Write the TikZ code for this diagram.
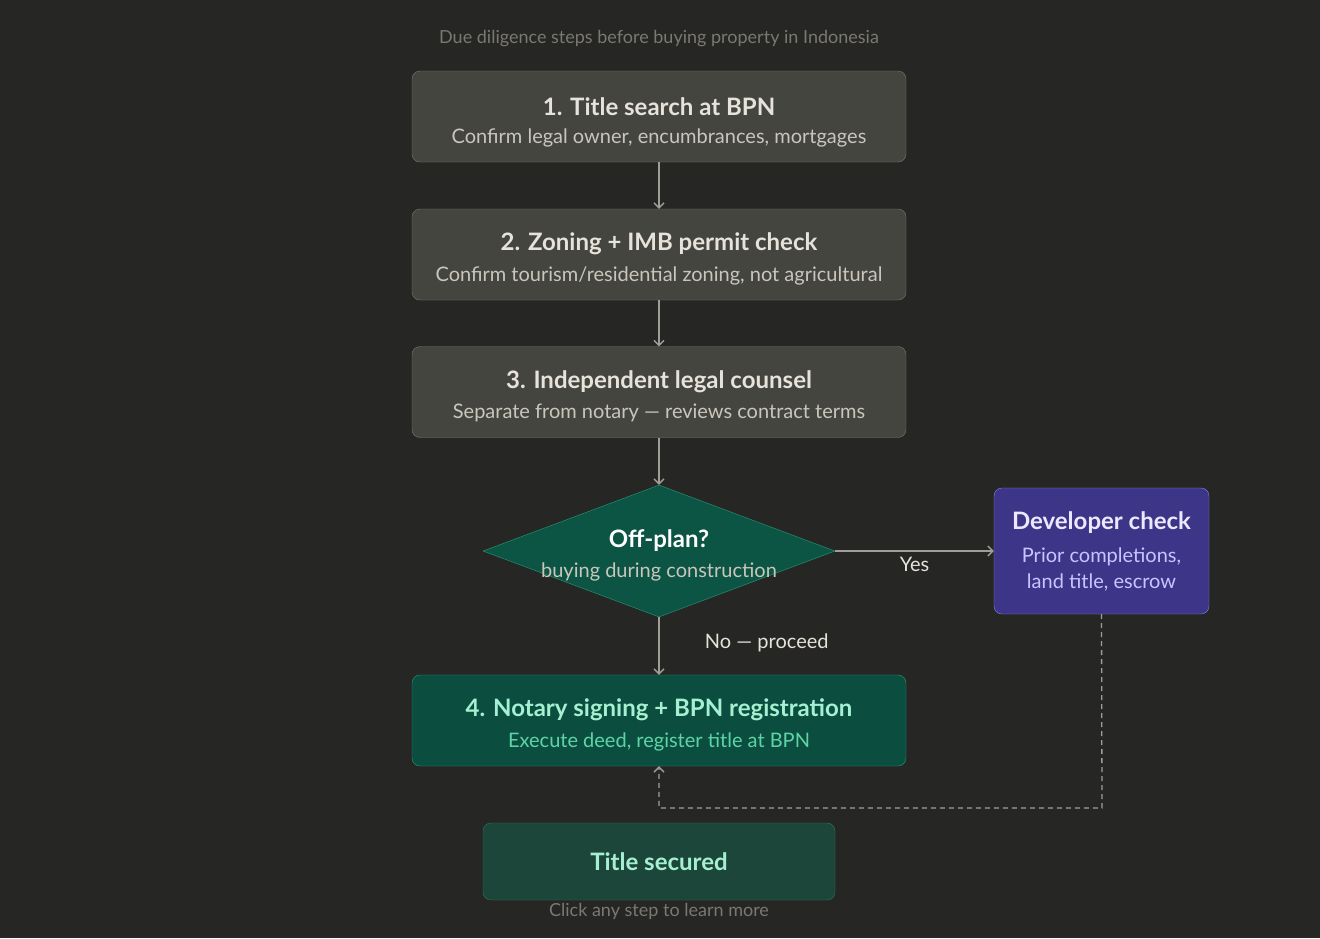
\documentclass[tikz,border=0pt]{standalone}
\usepackage{fontspec}
\setmainfont{Lato}
\usetikzlibrary{shapes.geometric,arrows.meta}
\definecolor{bg}{HTML}{262624}
\definecolor{gbox}{HTML}{45453F}
\definecolor{gbd}{HTML}{7A7970}
\definecolor{gtx}{HTML}{E6E3DA}
\definecolor{gsub}{HTML}{C9C6BC}
\definecolor{ln}{HTML}{A09E96}
\definecolor{dia}{HTML}{0C5444}
\definecolor{diabd}{HTML}{2A9A78}
\definecolor{pbox}{HTML}{3D3587}
\definecolor{pbd}{HTML}{8E84E6}
\definecolor{ptx}{HTML}{ECE8FF}
\definecolor{psub}{HTML}{CBC3FF}
\definecolor{tbox}{HTML}{0B4E40}
\definecolor{ttx}{HTML}{A6F0D2}
\definecolor{tsub}{HTML}{5ED4A6}
\definecolor{sbox}{HTML}{1B4639}
\definecolor{sbd}{HTML}{2C7A5E}
\definecolor{foot}{HTML}{7A7870}
\begin{document}
\begin{tikzpicture}[x=1pt,y=-1pt,
  box/.style={draw=gbd,fill=gbox,rounded corners=8pt,minimum width=494pt,minimum height=91pt,align=center,inner sep=0pt},
  arr/.style={draw=ln,line width=1.3pt,-{Straight Barb[length=5pt,width=10pt]}},
  ttl/.style={font=\fontsize{24}{28}\selectfont\bfseries},
  sub/.style={font=\fontsize{20}{24}\selectfont}]
\fill[bg] (0,0) rectangle (1320,938);
\useasboundingbox (0,0) rectangle (1320,938);
\node[text=foot,font=\fontsize{18}{22}\selectfont] (hdr) at (659,39) {Due diligence steps before buying property in Indonesia};
\node[box] (b1) at (659,116.5) {};
\node[ttl,text=gtx] at (659,107) {1. Title search at BPN};
\node[sub,text=gsub] at (659,138) {Confirm legal owner, encumbrances, mortgages};
\node[box] (b2) at (659,254.5) {};
\node[ttl,text=gtx] at (659,244) {2. Zoning + IMB permit check};
\node[sub,text=gsub] at (659,276) {Confirm tourism/residential zoning, not agricultural};
\node[box] (b3) at (659,392) {};
\node[ttl,text=gtx] at (659,382) {3. Independent legal counsel};
\node[sub,text=gsub] at (659,413) {Separate from notary — reviews contract terms};
\node[diamond,draw=diabd,fill=dia,minimum width=352pt,minimum height=132pt,inner sep=0pt,aspect=2.67] (d) at (659,551) {};
\node[ttl,text=white] at (659,541) {Off-plan?};
\node[sub,text=gsub] at (659,572) {buying during construction};
\node[draw=pbd,fill=pbox,rounded corners=8pt,minimum width=215pt,minimum height=126pt] (dev) at (1101.5,551) {};
\node[ttl,text=ptx] at (1101.5,523) {Developer check};
\node[sub,text=psub,align=center] at (1101.5,569) {Prior completions,\\[2pt]land title, escrow};
\node[box,draw=diabd,fill=tbox] (b4) at (659,720.5) {};
\node[ttl,text=ttx] at (659,710) {4. Notary signing + BPN registration};
\node[sub,text=tsub] at (659,742) {Execute deed, register title at BPN};
\node[draw=sbd,fill=sbox,rounded corners=8pt,minimum width=352pt,minimum height=77pt] (ts) at (659,861.5) {};
\node[ttl,text=ttx] at (659,862) {Title secured};
\node[text=foot,font=\fontsize{18}{22}\selectfont] (ft) at (659,911) {Click any step to learn more};
\draw[arr] (b1) -- (b2);
\draw[arr] (b2) -- (b3);
\draw[arr] (b3) -- (d.north);
\draw[arr] (d.south) -- node[right=42pt,text=gtx,sub,pos=0.45]{No — proceed} (b4);
\draw[arr] (d.east) -- node[fill=bg,text=gtx,sub,inner xsep=8pt,yshift=-13pt]{Yes} (dev.west);
\coordinate (c1) at (1102,808);
\coordinate (c2) at (659,808);
\draw[arr,dashed,dash pattern=on 5pt off 4pt] (dev.south) -- (c1) -- (c2) -- (b4.south);
\end{tikzpicture}
\end{document}
